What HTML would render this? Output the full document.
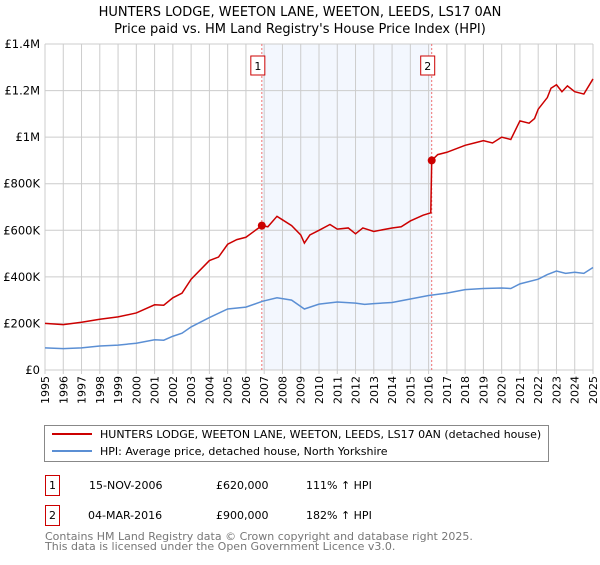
<!DOCTYPE html>
<html><head><meta charset="utf-8"><style>
body{margin:0;background:#fff;font-family:"Liberation Sans","DejaVu Sans",sans-serif;}
svg text{font-family:"DejaVu Sans","Liberation Sans",sans-serif;}
</style></head><body>
<svg id="c" width="600" height="560" xmlns="http://www.w3.org/2000/svg">
<text x="300" y="16" text-anchor="middle" font-size="13">HUNTERS LODGE, WEETON LANE, WEETON, LEEDS, LS17 0AN</text>
<text x="300" y="33" text-anchor="middle" font-size="13">Price paid vs. HM Land Registry's House Price Index (HPI)</text>
<g id="grid"></g><g id="marks"></g>
<g>
<rect x="44.5" y="425.5" width="504" height="36" fill="#fff" stroke="#888"/>
<line x1="52" y1="434" x2="92" y2="434" stroke="#cc0000" stroke-width="2"/>
<text x="100" y="438" font-size="11">HUNTERS LODGE, WEETON LANE, WEETON, LEEDS, LS17 0AN (detached house)</text>
<line x1="52" y1="451" x2="92" y2="451" stroke="#5b8fd4" stroke-width="2"/>
<text x="100" y="455" font-size="11">HPI: Average price, detached house, North Yorkshire</text>
</g>
<g font-size="11">
<rect x="45.5" y="475.5" width="14" height="20" fill="none" stroke="#cc0000"/>
<text x="52.5" y="489" text-anchor="middle">1</text>
<text x="89" y="489">15-NOV-2006</text><text x="216" y="489">£620,000</text><text x="306" y="489">111% ↑ HPI</text>
<rect x="45.5" y="505.5" width="14" height="20" fill="none" stroke="#cc0000"/>
<text x="52.5" y="519" text-anchor="middle">2</text>
<text x="88" y="519">04-MAR-2016</text><text x="216" y="519">£900,000</text><text x="306" y="519">182% ↑ HPI</text>
</g>
<text x="45" y="540" font-size="11" fill="#777">Contains HM Land Registry data © Crown copyright and database right 2025.</text>
<text x="45" y="550" font-size="11" fill="#777">This data is licensed under the Open Government Licence v3.0.</text>
</svg>
<script>
const hpiYears=[1995,1996,1997,1998,1999,2000,2001,2001.5,2002,2002.5,2003,2004,2005,2006,2006.9,2007.7,2008.5,2009.2,2010,2011,2012,2012.5,2013,2014,2015,2016,2017,2018,2019,2020,2020.5,2021,2022,2022.5,2023,2023.5,2024,2024.5,2025];
const hpiValues=[95,92,95,103,107,115,130,128,145,158,185,225,262,270,295,310,300,262,283,292,287,282,285,290,305,320,330,345,350,352,350,370,390,410,425,415,420,415,440];
const priceYears=[1995,1996,1997,1998,1999,2000,2001,2001.5,2002,2002.5,2003,2004,2004.5,2005,2005.5,2006,2006.87,2007.2,2007.7,2008,2008.5,2009,2009.2,2009.5,2010,2010.6,2011,2011.6,2012,2012.4,2013,2014,2014.5,2015,2015.7,2016.12,2016.17,2016.5,2017,2018,2018.5,2019,2019.5,2020,2020.5,2021,2021.5,2021.8,2022,2022.5,2022.7,2023,2023.3,2023.6,2024,2024.5,2025];
const priceValues=[200,195,205,218,228,245,280,278,310,330,390,470,485,540,560,570,620,615,660,645,620,580,545,580,600,625,605,610,585,610,595,610,615,640,665,675,900,925,935,965,975,985,975,1000,990,1070,1060,1080,1120,1170,1210,1225,1195,1220,1195,1185,1250];
const saleYears=[2006.87,2016.17];
const saleValues=[620,900];
const yTicks=[0,200,400,600,800,1000,1200,1400];
const yTickLabels=["£0","£200K","£400K","£600K","£800K","£1M","£1.2M","£1.4M"];
const xTicks=[1995,1996,1997,1998,1999,2000,2001,2002,2003,2004,2005,2006,2007,2008,2009,2010,2011,2012,2013,2014,2015,2016,2017,2018,2019,2020,2021,2022,2023,2024,2025];
const X0=45,X1=593,Y0=370,Y1=44;
const xs=y=>X0+(y-1995)/30*(X1-X0);
const ys=v=>Y0-v/1400*(Y0-Y1);
const NS="http://www.w3.org/2000/svg";
const grid=document.getElementById('grid'),marks=document.getElementById('marks');
function mk(p,t,a){const e=document.createElementNS(NS,t);for(const k in a)e.setAttribute(k,a[k]);p.appendChild(e);return e;}
const band=mk(grid,'rect',{x:xs(saleYears[0]),y:Y1,width:xs(saleYears[1])-xs(saleYears[0]),height:Y0-Y1,fill:'#eef3fd',opacity:0.7});


xTicks.forEach(t=>{
 const l=mk(grid,'line',{x1:xs(t),x2:xs(t),y1:Y1,y2:Y0+4,stroke:'#ccc'});
 
 
 const tx=mk(grid,'text',{x:0,y:0,'font-size':11,'text-anchor':'end',transform:`translate(${xs(t)+4},${Y0+6}) rotate(-90)`});
 tx.textContent=t;
 
 
});
yTicks.forEach((t,i)=>{
 const l=mk(grid,'line',{x1:X0,x2:X1,y1:ys(t),y2:ys(t),stroke:'#ccc'});
 
 
 const tx=mk(grid,'text',{x:X0-5,y:ys(t)+4,'font-size':11.5,'text-anchor':'end'});
 tx.textContent=yTickLabels[i];
 
 
});
saleYears.forEach((s,i)=>{
 const l=mk(marks,'line',{x1:xs(s),x2:xs(s),y1:Y1,y2:Y0,stroke:'#f07070','stroke-dasharray':'2,2'});
 
 
 const r=mk(marks,'rect',{x:xs(s)-11,y:56,width:14,height:19,fill:'#fff',stroke:'#cc0000'});
 
 
 const t=mk(marks,'text',{x:xs(s)-4,y:70,'font-size':11,'text-anchor':'middle'});
 t.textContent=i+1;
 
 
});
const hp=mk(marks,'polyline',{points:hpiYears.map((y,i)=>xs(y)+','+ys(hpiValues[i])).join(' '),fill:'none',stroke:'#5b8fd4','stroke-width':1.5});


const pp=mk(marks,'polyline',{points:priceYears.map((y,i)=>xs(y)+','+ys(priceValues[i])).join(' '),fill:'none',stroke:'#cc0000','stroke-width':1.5});


saleYears.forEach((s,i)=>{
 const c=mk(marks,'circle',{cx:xs(s),cy:ys(saleValues[i]),r:4,fill:'#cc0000'});
 
 
});
</script>
</body></html>
